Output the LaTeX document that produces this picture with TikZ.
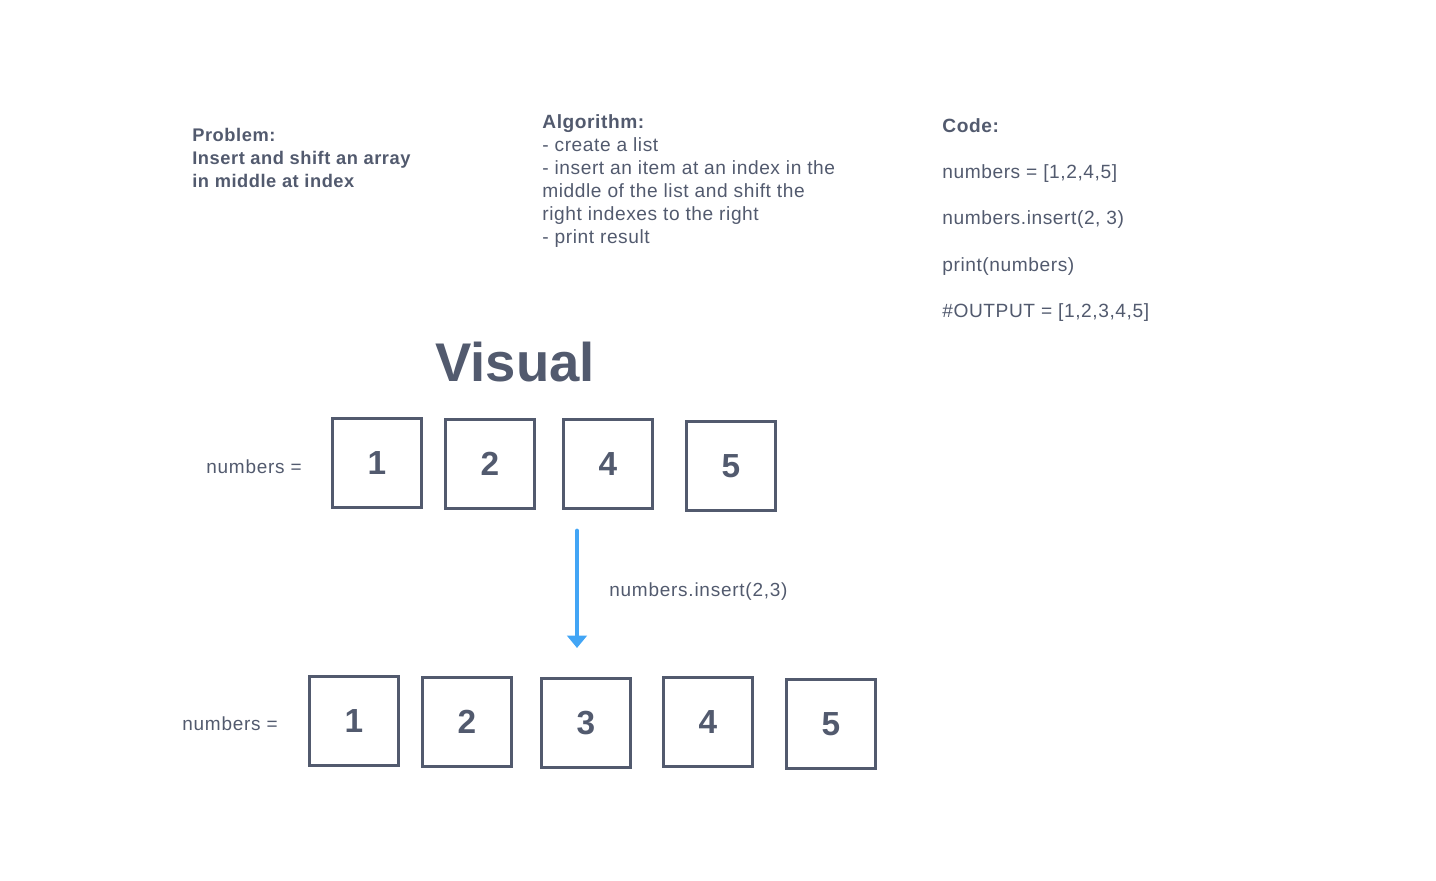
\documentclass[tikz,border=0pt]{standalone}
\usepackage{fontspec}
\setmainfont{Liberation Sans}
\newfontfamily\spacedfont[LetterSpace=4]{Liberation Sans}
\newfontfamily\notefont[LetterSpace=3]{Liberation Sans}
\usepackage{tikz}
\usetikzlibrary{arrows.meta}
\definecolor{slate}{RGB}{82,90,110}
\definecolor{arrowblue}{RGB}{66,165,245}
\tikzset{
  cell/.style={draw=slate, line width=1.4pt, minimum width=50.5pt, minimum height=50.5pt,
    inner sep=0pt, text=slate, font={\fontsize{19}{19}\selectfont\bfseries}},
  note/.style={anchor=north west, align=left, inner sep=0pt, text=slate},
  lbl/.style={anchor=west, inner sep=0pt, text=slate, font={\spacedfont\fontsize{10.8}{12}\selectfont}}
}
\begin{document}
\begin{tikzpicture}[x=0.02cm,y=-0.02cm]

\useasboundingbox (0,0) rectangle (1436,881);

% text blocks at the top
\node[note, font={\notefont\fontsize{10.4}{13.1}\selectfont\bfseries}] (problem) at (192,128)
  {Problem:\\Insert and shift an array\\in middle at index};
\node[note, font={\notefont\fontsize{10.9}{13.1}\selectfont}] (algo) at (542,114)
  {\textbf{Algorithm:}\\- create a list\\- insert an item at an index in the\\middle of the list and shift the\\right indexes to the right\\- print result};
\node[note, font={\notefont\fontsize{10.9}{26.4}\selectfont}] (code) at (942,118)
  {\textbf{Code:}\\numbers = [1,2,4,5]\\numbers.insert(2, 3)\\print(numbers)\\\#OUTPUT = [1,2,3,4,5]};

\node[text=slate, font={\fontsize{31}{31}\selectfont\bfseries}] (visual) at (515,362) {Visual};

% before
\node[lbl] (before) at (206,467) {numbers =};
\foreach \n/\x/\y in {1/377/463, 2/490/464, 4/608/464, 5/731/466}
  \node[cell] (top\n) at (\x,\y) {\n};

% after
\node[lbl] (after) at (182,724) {numbers =};
\foreach \n/\x/\y in {1/354/721, 2/467/722, 3/586/723, 4/708/722, 5/831/724}
  \node[cell] (bot\n) at (\x,\y) {\n};

% insert step
\coordinate (from) at (577,531);
\coordinate (to) at (577,648);
\draw[arrowblue, line width=2.8pt, line cap=round, -{Triangle[width=11pt,length=7pt]}] (from) -- (to);
\node[lbl] (step) at (609,592) {numbers.insert(2,3)};

\end{tikzpicture}
\end{document}
